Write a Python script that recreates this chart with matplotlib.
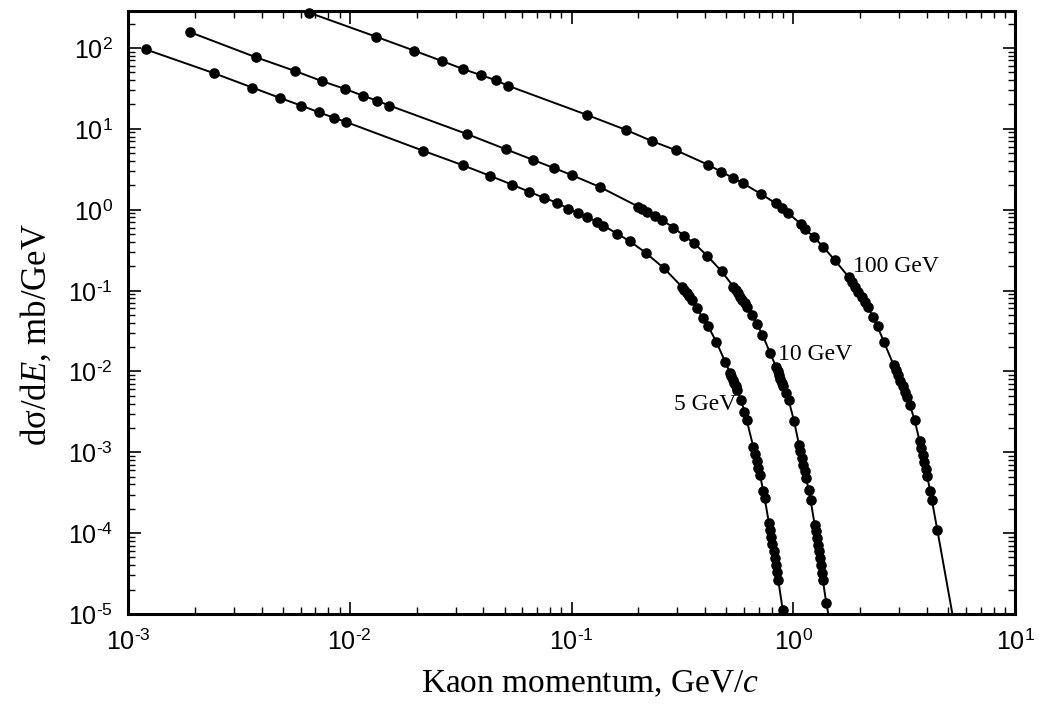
import math
import matplotlib
matplotlib.use('Agg')
import matplotlib.pyplot as plt
from matplotlib.ticker import LogLocator, NullFormatter, FuncFormatter, FixedLocator

# ---- data ----
five_x = [0.0012, 0.00244, 0.00364, 0.00484, 0.00602, 0.00726, 0.00847, 0.00965,
          0.0215, 0.0323, 0.0429, 0.0539, 0.0646, 0.0752, 0.0858, 0.0968,
          0.107, 0.117, 0.130, 0.139, 0.161, 0.184, 0.217, 0.261,
          0.314, 0.322, 0.331, 0.340, 0.348,
          0.367, 0.391, 0.414, 0.449, 0.493,
          0.5185, 0.5262, 0.5339, 0.5418, 0.5495, 0.5570,
          0.5813, 0.6021, 0.6160,
          0.6604, 0.6722, 0.6835, 0.6957, 0.7079,
          0.7319, 0.7426,
          0.7763, 0.7860, 0.7958, 0.8050, 0.8149, 0.8251, 0.8346, 0.8441, 0.8555,
          0.8962]
five_y = [96, 48.7, 32.3, 24.1, 19.4, 16.0, 13.7, 12.1,
          5.33, 3.55, 2.62, 2.04, 1.66, 1.40, 1.22, 1.03,
          0.906, 0.808, 0.713, 0.636, 0.502, 0.404, 0.290, 0.189,
          0.112, 0.102, 0.0929, 0.0844, 0.0767,
          0.0611, 0.0456, 0.0359, 0.0234, 0.0132,
          9.61e-3, 8.72e-3, 7.92e-3, 7.19e-3, 6.53e-3, 5.92e-3,
          4.46e-3, 3.17e-3, 2.52e-3,
          1.17e-3, 9.58e-4, 7.85e-4, 6.43e-4, 5.27e-4,
          3.34e-4, 2.74e-4,
          1.345e-4, 1.10e-4, 9.03e-5, 7.40e-5, 6.06e-5, 4.96e-5, 4.07e-5, 3.33e-5, 2.65e-5,
          1.13e-5]

ten_x = [0.00191, 0.00377, 0.00565, 0.00752, 0.00952, 0.01144, 0.01323, 0.01508,
         0.0339, 0.0505, 0.0670, 0.0836, 0.1005, 0.1346,
         0.200, 0.208, 0.220, 0.238, 0.255, 0.288, 0.322, 0.357, 0.408, 0.476,
         0.5368, 0.5490, 0.5622, 0.5753, 0.5886, 0.6030, 0.6167,
         0.6496, 0.6843, 0.7266, 0.7855,
         0.8360, 0.8492, 0.8617, 0.8750, 0.8888, 0.9009,
         0.9251, 0.9519, 1.0079,
         1.0617, 1.0777, 1.0940, 1.1101, 1.1274, 1.1439,
         1.1717, 1.1962,
         1.2495, 1.2637, 1.2757, 1.2897, 1.3032, 1.3167, 1.3299, 1.3466, 1.3593,
         1.4080]
ten_y = [156, 76.7, 52.0, 38.7, 31.1, 25.7, 22.3, 19.4,
         8.58, 5.59, 4.13, 3.26, 2.67, 1.90,
         1.09, 1.02, 0.946, 0.838, 0.748, 0.601, 0.475, 0.385, 0.271, 0.172,
         0.1120, 0.1020, 0.0926, 0.0843, 0.0767, 0.0697, 0.0634,
         0.0501, 0.0388, 0.0283, 0.01698,
         0.01140, 0.01017, 0.00908, 0.00810, 0.00723, 0.00654,
         0.00544, 0.00446, 0.00245,
         1.238e-3, 1.023e-3, 8.48e-4, 7.01e-4, 5.79e-4, 4.80e-4,
         3.44e-4, 2.59e-4,
         1.27e-4, 1.05e-4, 8.70e-5, 7.19e-5, 5.94e-5, 4.92e-5, 4.07e-5, 3.21e-5, 2.65e-5,
         1.379e-5]

hundred_x = [0.00655, 0.0131, 0.0195, 0.0260, 0.0323, 0.0391, 0.0455, 0.0515,
             0.117, 0.176, 0.231, 0.295, 0.414, 0.474, 0.533, 0.591, 0.713, 0.833, 0.893, 0.950,
             1.08, 1.13, 1.24, 1.36, 1.535,
             1.775, 1.836, 1.899, 1.964, 2.032, 2.101, 2.173,
             2.278, 2.399, 2.560,
             2.832, 2.899, 2.968, 3.038, 3.110, 3.183, 3.258,
             3.354, 3.523,
             3.718, 3.781, 3.839, 3.899, 3.964, 4.022,
             4.145, 4.214, 4.462]
hundred_y = [273, 138, 92.6, 69.0, 55.0, 46.0, 39.9, 34.2,
             14.9, 9.69, 7.03, 5.44, 3.58, 2.93, 2.49, 2.13, 1.57, 1.20, 1.04, 0.905,
             0.667, 0.574, 0.457, 0.35, 0.2396,
             0.1477, 0.1281, 0.1111, 0.0964, 0.0836, 0.0725, 0.0629,
             0.0477, 0.0359, 0.0234,
             0.01207, 0.01038, 0.00890, 0.00765, 0.00658, 0.00564, 0.00485,
             0.003866, 0.002522,
             1.360e-3, 1.114e-3, 9.13e-4, 7.48e-4, 6.13e-4, 5.02e-4,
             3.28e-4, 2.59e-4, 1.102e-4]

# where each curve's line meets the lower axis limit
tail_x = [0.905, 1.44, 5.22]
tail_y = [1e-5, 1e-5, 1e-5]

curve_labels = ['5 GeV', '10 GeV', '100 GeV']
label_x = [0.290, 0.853, 1.86]
label_y = [3.86e-3, 0.016, 0.196]

x_ticks = [1e-3, 1e-2, 1e-1, 1e0, 1e1]
y_ticks = [1e-5, 1e-4, 1e-3, 1e-2, 1e-1, 1e0, 1e1, 1e2]

xlim = (1e-3, 10)
ylim = (1e-5, 286)

# ---- style ----
plt.rcParams['font.family'] = ['Liberation Sans', 'DejaVu Sans']
plt.rcParams['mathtext.fontset'] = 'custom'
plt.rcParams['mathtext.rm'] = 'Liberation Sans'
plt.rcParams['mathtext.it'] = 'Liberation Serif:italic'
plt.rcParams['axes.unicode_minus'] = False


def pow_label(v, pos):
    if v <= 0:
        return ''
    e = int(round(math.log10(v)))
    if e < 0:
        return r'$10^{\text{-}%d}$' % (-e)
    return r'$10^{%d}$' % e


fig = plt.figure(figsize=(10.39, 7.04), dpi=100)
ax = fig.add_axes([128 / 1039, 1 - 614 / 704, (1015 - 128) / 1039, (614 - 11) / 704])

series = [(five_x, five_y), (ten_x, ten_y), (hundred_x, hundred_y)]
for i, (xs, ys) in enumerate(series):
    ax.plot(xs + [tail_x[i]], ys + [tail_y[i]], color='black', lw=1.4, zorder=2)
    ax.plot(xs, ys, 'o', ms=6.6, color='black', mec='black', clip_on=False, zorder=3)

for t, lx, ly in zip(curve_labels, label_x, label_y):
    ax.text(lx, ly, t, family=['Liberation Serif', 'DejaVu Serif'], fontsize=17,
            ha='left', va='center')

ax.set_xscale('log')
ax.set_yscale('log')
ax.set_xlim(*xlim)
ax.set_ylim(*ylim)
ax.xaxis.set_major_locator(FixedLocator(x_ticks))
ax.yaxis.set_major_locator(FixedLocator(y_ticks))
ax.xaxis.set_minor_locator(LogLocator(base=10, subs=range(2, 10), numticks=40))
ax.yaxis.set_minor_locator(LogLocator(base=10, subs=range(2, 10), numticks=40))
ax.xaxis.set_major_formatter(FuncFormatter(pow_label))
ax.yaxis.set_major_formatter(FuncFormatter(pow_label))
ax.xaxis.set_minor_formatter(NullFormatter())
ax.yaxis.set_minor_formatter(NullFormatter())

ax.tick_params(which='both', direction='in', top=True, right=True, color='black')
ax.tick_params(which='major', length=9, width=1.2, labelsize=18, pad=11)
ax.tick_params(which='minor', length=5, width=1.0)
for s in ax.spines.values():
    s.set_linewidth(2.2)

fig.text(590 / 1039, 1 - 684 / 704, 'Kaon momentum, GeV/$c$',
         family=['Liberation Serif', 'DejaVu Serif'], fontsize=24, ha='center', va='center')
fig.text(36 / 1039, 1 - 335 / 704, 'dσ/d$E$, mb/GeV',
         family=['Liberation Serif', 'DejaVu Serif'], fontsize=25, ha='center', va='center',
         rotation=90)

fig.savefig('out.png', dpi=100)
